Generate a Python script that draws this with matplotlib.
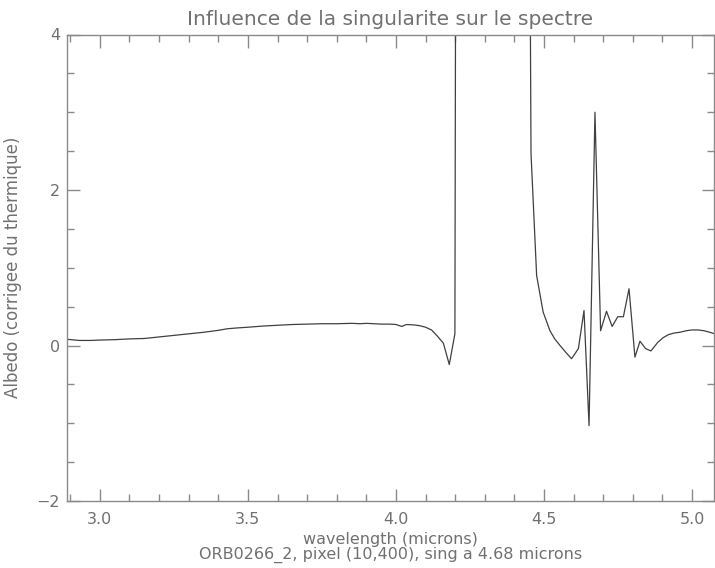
import matplotlib
matplotlib.use("Agg")
import matplotlib.pyplot as plt
from matplotlib.ticker import MultipleLocator

# wavelength (microns) and albedo values
wavelength = [2.889, 2.93, 2.97, 3.00, 3.05, 3.10, 3.15, 3.20, 3.25, 3.30,
              3.35, 3.40, 3.43, 3.46, 3.50, 3.55, 3.60, 3.65, 3.70, 3.75,
              3.80, 3.85, 3.88, 3.90, 3.95, 3.98, 4.00, 4.02, 4.035, 4.06,
              4.08, 4.10, 4.12, 4.14, 4.16, 4.18, 4.199, 4.205, 4.26, 4.32,
              4.38, 4.44, 4.456, 4.475, 4.497, 4.52, 4.537, 4.554, 4.574, 4.593,
              4.616, 4.635, 4.652, 4.672, 4.691, 4.711, 4.730, 4.749, 4.768, 4.787,
              4.807, 4.824, 4.843, 4.861, 4.884, 4.902, 4.920, 4.939, 4.959, 4.980,
              5.00, 5.02, 5.04, 5.06, 5.077]
albedo = [0.08, 0.065, 0.065, 0.07, 0.075, 0.085, 0.09, 0.11, 0.13, 0.15,
          0.17, 0.195, 0.215, 0.225, 0.235, 0.25, 0.26, 0.27, 0.275, 0.28,
          0.28, 0.285, 0.28, 0.285, 0.275, 0.275, 0.27, 0.245, 0.27, 0.265,
          0.255, 0.235, 0.20, 0.12, 0.03, -0.245, 0.15, 12.0, 25.0, 30.0,
          25.0, 15.0, 2.47, 0.9, 0.43, 0.19, 0.08, 0.0, -0.09, -0.17,
          -0.04, 0.45, -1.03, 3.0, 0.19, 0.44, 0.245, 0.37, 0.37, 0.73,
          -0.15, 0.055, -0.04, -0.07, 0.04, 0.10, 0.14, 0.16, 0.17, 0.19,
          0.20, 0.20, 0.19, 0.17, 0.15]

xlim = (2.889, 5.074)
ylim = (-2, 4)
xticks = [3.0, 3.5, 4.0, 4.5, 5.0]
xticklabels = ["3.0", "3.5", "4.0", "4.5", "5.0"]
yticks = [-2, 0, 2, 4]
yticklabels = ["\u22122", "0", "2", "4"]

txt = "#707070"
axc = "#8a8a8a"
plt.rcParams['font.family'] = ['DejaVu Sans']

fig = plt.figure(figsize=(7.15, 5.68), dpi=100)
ax = fig.add_axes([67/715, 67/568, (714-67)/715, (501-34.5)/568])
ax.plot(wavelength, albedo, color="#404040", lw=0.9)
ax.set_xlim(*xlim)
ax.set_ylim(*ylim)
ax.set_xticks(xticks)
ax.set_xticklabels(xticklabels)
ax.set_yticks(yticks)
ax.set_yticklabels(yticklabels)
ax.xaxis.set_minor_locator(MultipleLocator(0.1))
ax.yaxis.set_minor_locator(MultipleLocator(0.5))
ax.tick_params(which='both', direction='in', top=True, right=True, colors=axc,
               labelcolor=txt, labelsize=11.5, width=1.0)
ax.tick_params(which='major', length=9)
ax.tick_params(which='minor', length=5)
ax.tick_params(axis='x', which='major', pad=8)
ax.tick_params(axis='y', which='major', pad=5)
for s in ax.spines.values():
    s.set_color(axc)
    s.set_linewidth(1.0)

ax.set_title("Influence de la singularite sur le spectre", color=txt,
             fontsize=14.5, pad=7)
ax.set_xlabel("wavelength (microns)\nORB0266_2, pixel (10,400), sing a 4.68 microns",
              color=txt, fontsize=11.5, linespacing=0.95)
ax.xaxis.set_label_coords(0.5, (501 - 532) / 466.5)
ax.set_ylabel("Albedo (corrigee du thermique)", color=txt, fontsize=12)
ax.yaxis.set_label_coords((22 - 67) / 647, 0.5)

fig.savefig("out.png", dpi=100, facecolor="white")
